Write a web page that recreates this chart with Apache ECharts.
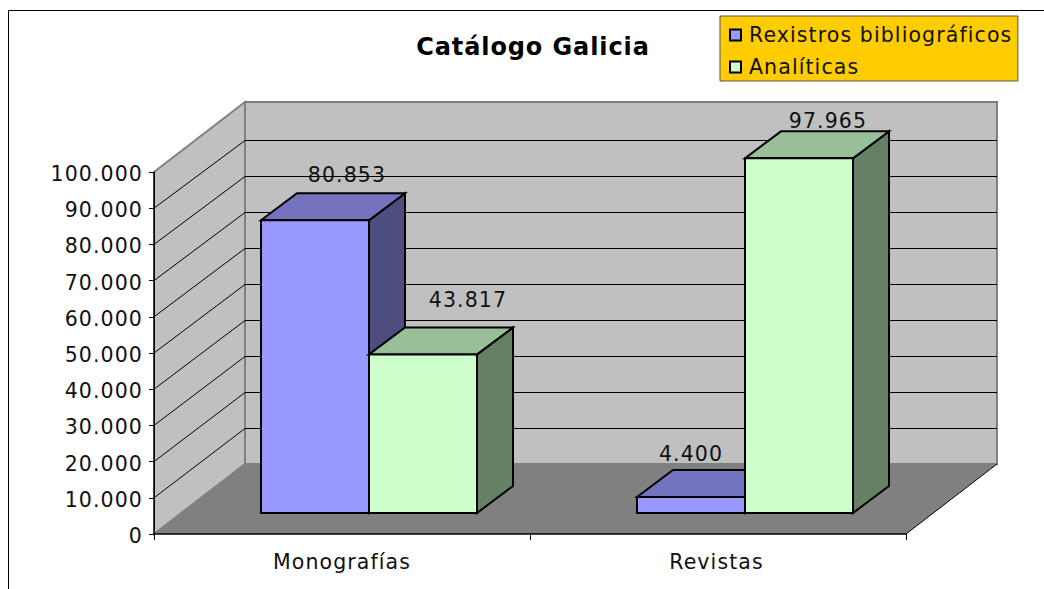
<!DOCTYPE html>
<html><head><meta charset="utf-8">
<style>html,body{margin:0;padding:0;background:#fff}#c{width:1044px;height:589px}#c text{letter-spacing:1.1px}</style>
<script src="https://cdn.jsdelivr.net/npm/echarts@6/dist/echarts.min.js"></script>
</head><body><div id="c"></div>
<script>
const categories = ['Monografías', 'Revistas'];
const rexistros = [80853, 4400];
const analiticas = [43817, 97965];
const yTicks = [10000, 20000, 30000, 40000, 50000, 60000, 70000, 80000, 90000];

const FONT = 'DejaVu Sans';
const WALL = [91, -70], INSET = [27, -21], DEPTH = [36, -27];
const BAR_W = 108, BACK_SCALE = 36 / 36.2;
const TEXT = '#111';
const fmt = v => String(v).replace(/\B(?=(\d{3})+(?!\d))/g, '.');

function poly(points, fill, stroke, lw) {
  return { type: 'polygon', shape: { points }, style: { fill, stroke: stroke || null, lineWidth: lw || 0, lineJoin: 'miter' } };
}
function wallItem(params) {
  const c = params.coordSys, x = c.x, y = c.y, r = c.x + c.width, b = c.y + c.height;
  const dx = WALL[0], dy = WALL[1];
  return { type: 'group', children: [
    poly([[x + dx, y + dy], [r + dx, y + dy], [r + dx, b + dy], [x + dx, b + dy]], '#c0c0c0', '#808080', 2),
    poly([[x, y], [x + dx, y + dy], [x + dx, b + dy], [x, b]], '#c0c0c0', '#808080', 2),
    poly([[x, b], [x + dx, b + dy], [r + dx, b + dy], [r, b]], '#808080'),
    { type: 'line', shape: { x1: r, y1: b, x2: r + dx, y2: b + dy }, style: { stroke: '#000', lineWidth: 1 } },
    { type: 'line', shape: { x1: x, y1: y, x2: x, y2: b }, style: { stroke: '#000', lineWidth: 1 } }
  ] };
}
function gridItem(params, api) {
  const c = params.coordSys, b = c.y + c.height, y = api.coord([0, api.value(1)])[1];
  const x0 = c.x, x1 = c.x + WALL[0], x2 = c.x + c.width + WALL[0];
  const y1 = Math.round(b + WALL[1] + (y - b) * BACK_SCALE) + 0.5;
  return { type: 'group', children: [
    { type: 'line', shape: { x1: x0, y1: y, x2: x1, y2: y1 }, style: { stroke: '#000', lineWidth: 1 } },
    { type: 'line', shape: { x1: x1, y1, x2, y2: y1 }, style: { stroke: '#000', lineWidth: 1 } }
  ] };
}
// side: -1 first bar of the pair, 0 second; nudges = label placement per bar
function barRender(side, front, top, right, nudges) {
  return function (params, api) {
    const i = api.value(0), v = api.value(1);
    const cx = api.coord([i, 0])[0];
    const x0 = cx + INSET[0] + side * BAR_W, x1 = x0 + BAR_W;
    const yb = api.coord([i, 0])[1] + INSET[1], yt = api.coord([i, v])[1] + INSET[1];
    const dx = DEPTH[0], dy = DEPTH[1], lw = 2, k = '#000';
    return { type: 'group', children: [
      poly([[x1, yt], [x1 + dx, yt + dy], [x1 + dx, yb + dy], [x1, yb]], right, k, lw),
      poly([[x0, yt], [x0 + dx, yt + dy], [x1 + dx, yt + dy], [x1, yt]], top, k, lw),
      poly([[x0, yt], [x1, yt], [x1, yb], [x0, yb]], front, k, lw),
      { type: 'text', z2: 100, style: { text: fmt(v), x: (x0 + x1) / 2 + nudges[i][0], y: yt + nudges[i][1],
        fill: TEXT, font: '20.5px "' + FONT + '"', align: 'center', verticalAlign: 'middle' } }
    ] };
  };
}
const pairs = a => a.map((v, i) => [i, v]);
const chart = echarts.init(document.getElementById('c'), null, { renderer: 'svg' });
chart.setOption({
  animation: false,
  backgroundColor: '#fff',
  textStyle: { fontFamily: FONT },
  title: { text: 'Catálogo Galicia', left: 533, top: 47, padding: 0, textAlign: 'center', textVerticalAlign: 'middle',
    textStyle: { fontFamily: FONT, fontWeight: 'bold', fontSize: 24, color: '#000' } },
  legend: { left: 720, top: 16, orient: 'vertical', align: 'left', padding: [6, 32, 1, 9], itemGap: 6, icon: 'rect',
    itemWidth: 11, itemHeight: 11, itemStyle: { borderColor: '#000', borderWidth: 2 },
    backgroundColor: '#ffcc00', borderColor: '#555', borderWidth: 1,
    textStyle: { fontFamily: FONT, fontSize: 20.5, color: TEXT, padding: [2, 0, 2, 3], lineHeight: 22 },
    data: ['Rexistros bibliográficos', 'Analíticas'], selectedMode: false },
  grid: { left: 154, right: 138, top: 172, bottom: 55 },
  xAxis: { type: 'category', data: categories, z: 5,
    axisLine: { lineStyle: { color: '#000', width: 1.5 } },
    axisTick: { show: true, length: 6, alignWithLabel: false, lineStyle: { color: '#000' } },
    axisLabel: { color: TEXT, fontSize: 20.5, fontFamily: FONT, margin: 17 }, splitLine: { show: false } },
  yAxis: { type: 'value', min: 0, max: 100000, interval: 10000, z: 5,
    axisLine: { show: true, lineStyle: { color: '#000' } },
    axisTick: { show: true, length: 5, lineStyle: { color: '#000' } },
    axisLabel: { color: TEXT, fontSize: 20.5, fontFamily: FONT, margin: 11, formatter: fmt }, splitLine: { show: false } },
  graphic: [
    { type: 'line', z: -1, shape: { x1: 8.5, y1: 10.5, x2: 1044, y2: 10.5 }, style: { stroke: '#000', lineWidth: 1 } },
    { type: 'line', z: -1, shape: { x1: 8.5, y1: 10.5, x2: 8.5, y2: 589 }, style: { stroke: '#000', lineWidth: 1 } }
  ],
  series: [
    { type: 'custom', name: 'walls', silent: true, z: 1, data: [[0, 0]], renderItem: wallItem, encode: { x: 0, y: 1 } },
    { type: 'custom', name: 'grid', silent: true, z: 2, data: yTicks.map(v => [0, v]), renderItem: gridItem, encode: { x: 0, y: 1 } },
    { type: 'custom', name: 'Rexistros bibliográficos', z: 3, itemStyle: { color: '#9999ff' }, data: pairs(rexistros), encode: { x: 0, y: 1 },
      renderItem: barRender(-1, '#9999ff', '#7373bf', '#4d4d80', [[32, -45], [0, -43]]) },
    { type: 'custom', name: 'Analíticas', z: 4, itemStyle: { color: '#ccffcc' }, data: pairs(analiticas), encode: { x: 0, y: 1 },
      renderItem: barRender(0, '#ccffcc', '#99bf99', '#668066', [[45, -54], [29, -37]]) }
  ]
});
document.querySelectorAll('#c text').forEach(t => {
  const cs = getComputedStyle(t);
  if (+cs.fontWeight >= 600) t.style.letterSpacing = '0.9px';
  if (cs.textAnchor === 'end') t.style.translate = '0 2px';
  if (t.textContent === categories[1]) t.style.translate = '-1.5px 0';
});
</script></body></html>
